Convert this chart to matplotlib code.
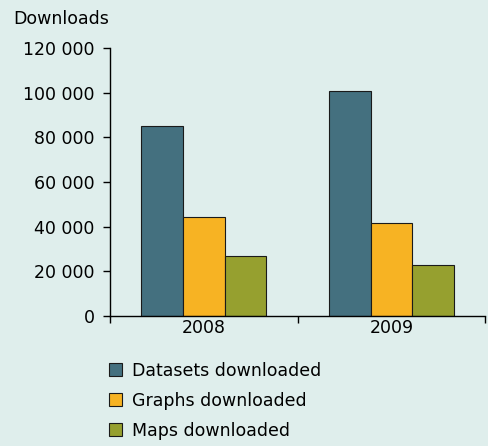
import numpy as np
import matplotlib.pyplot as plt
from matplotlib.ticker import FuncFormatter, FixedLocator

years = ['2008', '2009']
series = ['Datasets downloaded', 'Graphs downloaded', 'Maps downloaded']
datasets = [85000, 101000]
graphs = [44200, 41500]
maps = [26700, 22800]
colors = ['#44707f', '#f7b323', '#96a02f']
bg = '#dfeeec'
fs = 12.5

plt.rcParams['font.family'] = 'DejaVu Sans'
fig = plt.figure(figsize=(4.89, 4.46), dpi=100, facecolor=bg)
ax = fig.add_axes([0.225, 0.2915, 0.767, 0.6005], facecolor=bg)

x = np.arange(len(years))
w = 0.222
for i, (vals, name) in enumerate(zip([datasets, graphs, maps], series)):
    ax.bar(x + (i - 1) * w, vals, w, color=colors[i], edgecolor='#1a1a1a',
           linewidth=0.8, label=name)

ax.set_xlim(-0.5, 1.5)
ax.set_ylim(0, 120000)
ax.set_yticks(range(0, 120001, 20000))
ax.yaxis.set_major_formatter(FuncFormatter(lambda v, p: f'{int(v):,}'.replace(',', ' ')))
ax.set_xticks(x)
ax.set_xticklabels(years)
ax.tick_params(axis='x', which='major', length=0, labelsize=fs, pad=2)
ax.xaxis.set_minor_locator(FixedLocator([-0.5, 0.5, 1.5]))
ax.tick_params(axis='x', which='minor', length=5, width=1)
ax.tick_params(axis='y', length=5, width=1, labelsize=fs, pad=6)
for s in ['top', 'right']:
    ax.spines[s].set_visible(False)
for s in ['left', 'bottom']:
    ax.spines[s].set_linewidth(1)

fig.text(0.027, 0.978, 'Downloads', fontsize=fs, va='top', ha='left')

fig.legend(loc='upper left', bbox_to_anchor=(0.208, 0.205), frameon=False,
           fontsize=fs, handlelength=0.75, handleheight=0.75, handletextpad=0.6,
           labelspacing=0.7, borderaxespad=0)

fig.savefig('out.png', dpi=100, facecolor=bg)
